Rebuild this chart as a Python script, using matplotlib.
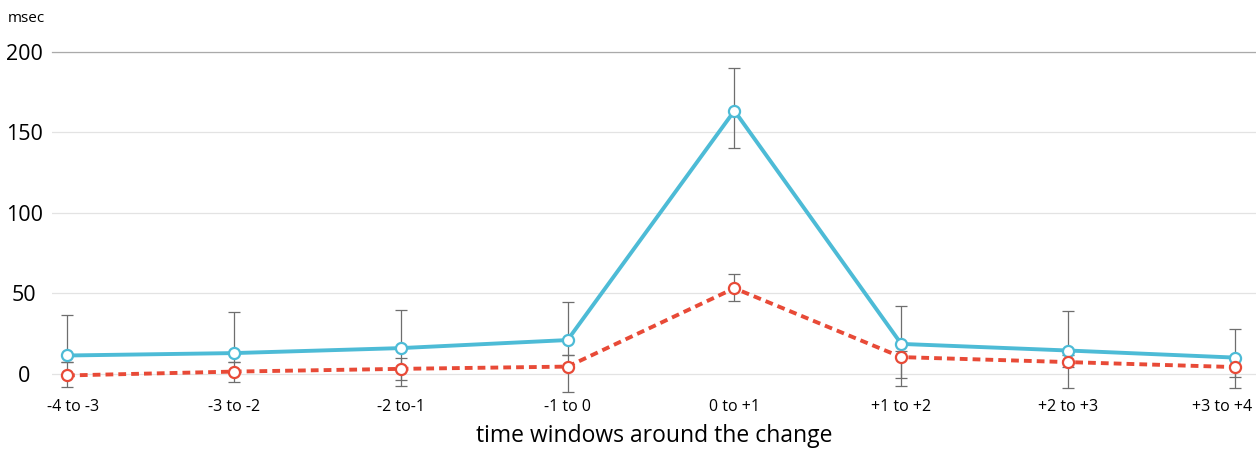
import matplotlib.pyplot as plt
import matplotlib.transforms as mtransforms

plt.rcParams['font.family'] = ['Open Sans', 'DejaVu Sans']

# datos
ventanas = ['-4 to -3', '-3 to -2', '-2 to-1', '-1 to 0', '0 to +1', '+1 to +2', '+2 to +3', '+3 to +4']
azul = [11.4, 12.9, 16.0, 21.0, 163.5, 18.6, 14.5, 10.1]
azul_alto = [36.6, 38.3, 39.8, 44.9, 189.9, 42.4, 39.1, 27.8]
azul_bajo = [7.6, 7.6, -3.7, 11.8, 140.2, -2.5, 4.5, -2.0]
rojo = [-1.0, 1.4, 3.1, 4.5, 53.2, 10.4, 7.3, 4.2]
rojo_alto = [7.6, 7.6, 10.0, 11.8, 61.9, 14.0, 12.0, 9.0]
rojo_bajo = [-7.9, -4.8, -7.5, -11.0, 45.3, -7.5, -8.9, -8.9]
marcas_y = [0, 50, 100, 150, 200]

color_azul = '#4dbbd6'
color_rojo = '#e84a37'
gris = '#6e6e6e'

fig = plt.figure(figsize=(12.56, 4.5), dpi=100)
ax = fig.add_axes([52 / 1256, 0.1156, 1 - 52 / 1256, 0.8844 - 0.1156])

x = list(range(len(ventanas)))

# barras de error
for valores, bajos, altos in [(azul, azul_bajo, azul_alto), (rojo, rojo_bajo, rojo_alto)]:
    err = [[v - b for v, b in zip(valores, bajos)], [a - v for v, a in zip(valores, altos)]]
    ax.errorbar(x, valores, yerr=err, fmt='none', ecolor=gris, elinewidth=0.9,
                capsize=4, capthick=0.9, zorder=1)

ax.plot(x, azul, color=color_azul, lw=2.8, solid_capstyle='butt', zorder=2)
ax.plot(x, rojo, color=color_rojo, lw=2.8, dashes=(2, 1.3), dash_capstyle='butt', zorder=2)
ax.plot(x, azul, ls='none', marker='o', ms=8, mfc='white', mec=color_azul, mew=1.6, zorder=3)
ax.plot(x, rojo, ls='none', marker='o', ms=8, mfc='white', mec=color_rojo, mew=1.6, zorder=3)

ax.set_xlim(-0.09, 7.126)
ax.set_ylim(-15, 200)

ax.set_yticks(marcas_y)
ax.set_yticklabels([str(v) for v in marcas_y], fontsize=15.5, ha='center')
ax.tick_params(axis='y', length=0, pad=20, labelcolor='#000000')
ax.set_xticks(x)
ax.set_xticklabels(ventanas, fontsize=11.5)
ax.tick_params(axis='x', length=0, pad=1, labelcolor='#000000')
etiquetas = ax.get_xticklabels()
etiquetas[-1].set_ha('right')
etiquetas[-1].set_transform(etiquetas[-1].get_transform() +
                            mtransforms.ScaledTranslation(0.17, 0, fig.dpi_scale_trans))
etiquetas[0].set_transform(etiquetas[0].get_transform() +
                           mtransforms.ScaledTranslation(0.06, 0, fig.dpi_scale_trans))

ax.yaxis.grid(True, color='#e3e3e3', lw=0.9)
ax.set_axisbelow(True)
for lado in ['left', 'right', 'bottom']:
    ax.spines[lado].set_visible(False)
ax.spines['top'].set_color('#aaaaaa')
ax.spines['top'].set_linewidth(0.9)

ax.set_xlabel('time windows around the change', fontsize=16.5, labelpad=6, color='#000000')
fig.text(8 / 1256, 1 - 19 / 450, 'msec', fontsize=11, va='center', ha='left', color='#000000')

plt.savefig('out.png', dpi=100)
